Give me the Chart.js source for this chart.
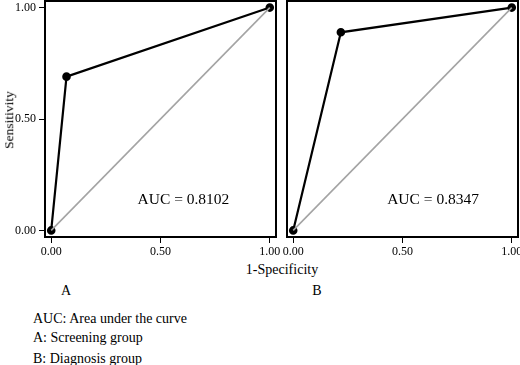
<!DOCTYPE html>
<html>
<head>
<meta charset="utf-8">
<script src="https://cdn.jsdelivr.net/npm/chart.js@4.4.1/dist/chart.umd.min.js"></script>
<style>
  body { margin: 0; background: #fff; width: 520px; height: 365px; overflow: hidden; position: relative; font-family: "Liberation Serif", serif; }
  .box { position: absolute; top: 0; height: 262px; }
  .lbl { position: absolute; color: #000; font-size: 14px; white-space: nowrap; line-height: 1; }
</style>
</head>
<body>
<div class="box" style="left:0;width:280px"><canvas id="chartA"></canvas></div>
<div class="box" style="left:280px;width:240px"><canvas id="chartB"></canvas></div>

<div class="lbl" style="left:9px;top:120px;font-size:13.5px;transform:translate(-50%,-50%) rotate(-90deg)">Sensitivity</div>
<div class="lbl" style="left:282px;top:270px;transform:translate(-50%,-50%)">1-Specificity</div>
<div class="lbl" style="left:66px;top:291px;transform:translate(-50%,-50%)">A</div>
<div class="lbl" style="left:317px;top:291px;transform:translate(-50%,-50%)">B</div>
<div class="lbl" style="left:33px;top:312px">AUC: Area under the curve</div>
<div class="lbl" style="left:33px;top:331px">A: Screening group</div>
<div class="lbl" style="left:33px;top:352px">B: Diagnosis group</div>

<script>
// ROC points (1-specificity, sensitivity)
const screeningFpr = [0, 0.07, 1];
const screeningTpr = [0, 0.69, 1];
const diagnosisFpr = [0, 0.218, 1];
const diagnosisTpr = [0, 0.889, 1];
const refLine = [0, 1];
const tickValues = [0, 0.5, 1];
const aucA = "AUC = 0.8102";
const aucB = "AUC = 0.8347";
const aucPos = { A: [0.605, 0.138], B: [0.64, 0.138] };

const serif = "'Liberation Serif', 'Times New Roman', serif";

// draws the closed frame round the plot and the AUC text
const framePlugin = {
  id: 'frame',
  afterDatasetsDraw(chart, args, opts) {
    const c = chart.ctx, a = chart.chartArea;
    c.save();
    c.strokeStyle = '#000';
    c.lineWidth = 2;
    c.strokeRect(a.left + 1, a.top + 1, a.right - a.left - 2, a.bottom - a.top - 2);
    c.font = '15.5px ' + serif;
    c.fillStyle = '#000';
    c.textAlign = 'center';
    c.textBaseline = 'middle';
    c.fillText(opts.text, chart.scales.x.getPixelForValue(opts.at[0]), chart.scales.y.getPixelForValue(opts.at[1]));
    c.restore();
  }
};

function makeChart(id, fpr, tpr, text, at, yLabels, yWidth, padRight) {
  return new Chart(document.getElementById(id), {
    type: 'scatter',
    data: {
      datasets: [{
        data: refLine.map((v, i) => ({ x: v, y: refLine[i] })),
        showLine: true,
        borderColor: '#a4a4a4',
        borderWidth: 1.6,
        pointRadius: 0,
        order: 0
      }, {
        data: fpr.map((v, i) => ({ x: v, y: tpr[i] })),
        showLine: true,
        borderColor: '#000',
        borderWidth: 2.2,
        pointRadius: 3.2,
        pointBackgroundColor: '#000',
        pointBorderColor: '#000',
        order: 1
      }]
    },
    options: {
      responsive: true,
      maintainAspectRatio: false,
      animation: false,
      layout: { autoPadding: false, padding: { top: 0, right: padRight, left: 0, bottom: 0 } },
      plugins: { legend: { display: false }, tooltip: { enabled: false }, frame: { text: text, at: at } },
      scales: {
        x: {
          type: 'linear', min: -0.033, max: 1.033,
          afterBuildTicks: s => { s.ticks = tickValues.map(v => ({ value: v })); },
          afterFit: s => { s.height = 24; s.paddingLeft = 0; s.paddingRight = 0; },
          grid: { drawOnChartArea: false, color: '#000', tickLength: 5, tickWidth: 1 },
          border: { display: false },
          ticks: { color: '#000', padding: 2, maxRotation: 0, font: { family: serif, size: 12 }, callback: v => v.toFixed(2) }
        },
        y: {
          type: 'linear', min: -0.034, max: 1.034,
          afterBuildTicks: s => { s.ticks = tickValues.map(v => ({ value: v })); },
          afterFit: s => { s.width = yWidth; s.paddingTop = 0; s.paddingBottom = 0; },
          grid: { display: yLabels, drawOnChartArea: false, color: '#000', tickLength: 5, tickWidth: 1 },
          border: { display: false },
          ticks: { display: yLabels, color: '#000', padding: 3, font: { family: serif, size: 12 }, callback: v => v.toFixed(2) }
        }
      }
    },
    plugins: [framePlugin]
  });
}

makeChart('chartA', screeningFpr, screeningTpr, aucA, aucPos.A, true, 44, 3);
makeChart('chartB', diagnosisFpr, diagnosisTpr, aucB, aucPos.B, false, 6, 1);
</script>
</body>
</html>
